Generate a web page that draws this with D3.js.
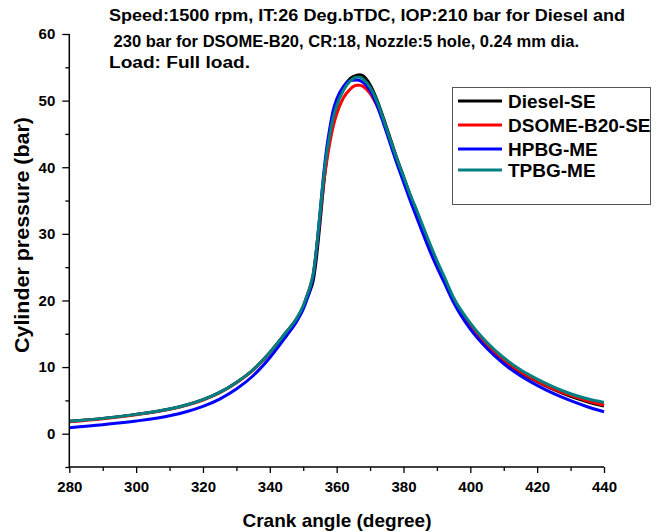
<!DOCTYPE html>
<html>
<head>
<meta charset="utf-8">
<script src="https://cdn.jsdelivr.net/npm/d3@7"></script>
<style>
  html, body { margin: 0; padding: 0; background: #fff; }
  svg { display: block; font-family: "Liberation Sans", Arial, sans-serif; }
</style>
</head>
<body>
<svg id="chart" width="664" height="532"></svg>
<script>
// ---- data ----
const crankAngle = [280, 290, 300, 310, 315, 320, 325, 330, 335, 340, 345, 348, 350, 351, 352, 353, 354, 355, 356, 357, 358, 359, 360, 362, 364, 366, 367, 368, 370, 372, 374, 376, 378, 380, 382, 384, 386, 388, 390, 392, 395, 400, 405, 410, 415, 420, 425, 430, 435, 440];

const dieselSE = [1.85, 2.3, 2.9, 3.7, 4.3, 5.1, 6.2, 7.7, 9.6, 12.2, 15.3, 17.2, 19.0, 20.2, 21.4, 23.0, 26.6, 31.5, 36.8, 41.2, 44.6, 47.3, 49.3, 51.9, 53.3, 53.8, 53.9, 53.7, 52.4, 50.2, 47.4, 44.4, 41.4, 38.6, 35.8, 33.2, 30.6, 28.0, 25.6, 23.4, 20.0, 16.2, 13.3, 11.0, 9.2, 7.8, 6.6, 5.6, 4.8, 4.15];

const dsomeB20SE = [1.8, 2.25, 2.85, 3.65, 4.25, 5.05, 6.15, 7.65, 9.55, 12.1, 15.2, 17.2, 19.1, 20.5, 22.0, 24.0, 27.8, 32.5, 37.2, 40.8, 43.8, 46.2, 48.0, 50.4, 51.7, 52.3, 52.3, 52.1, 51.1, 49.3, 46.9, 44.1, 41.2, 38.4, 35.7, 33.1, 30.5, 28.0, 25.6, 23.4, 20.0, 16.3, 13.4, 11.1, 9.3, 7.9, 6.7, 5.75, 4.95, 4.3];

const hpbgME = [0.9, 1.35, 1.9, 2.7, 3.3, 4.1, 5.2, 6.7, 8.7, 11.4, 14.7, 16.8, 18.7, 20.0, 21.6, 23.6, 27.8, 33.0, 38.4, 42.8, 46.0, 48.6, 50.2, 52.1, 53.0, 53.1, 53.0, 52.7, 51.5, 49.4, 46.6, 43.6, 40.6, 37.8, 35.0, 32.4, 29.8, 27.3, 25.0, 22.9, 19.7, 15.7, 12.8, 10.5, 8.7, 7.25, 6.0, 4.95, 4.05, 3.3];

const tpbgME = [1.85, 2.3, 2.9, 3.7, 4.3, 5.1, 6.2, 7.7, 9.6, 12.2, 15.3, 17.3, 19.2, 20.6, 22.0, 24.0, 28.0, 33.0, 38.0, 42.0, 45.0, 47.5, 49.2, 51.5, 52.9, 53.5, 53.5, 53.2, 52.0, 50.0, 47.2, 44.2, 41.3, 38.6, 35.9, 33.5, 30.9, 28.4, 26.0, 23.8, 20.4, 16.6, 13.7, 11.4, 9.6, 8.2, 7.0, 6.0, 5.25, 4.7];

const seriesNames = ["Diesel-SE", "DSOME-B20-SE", "HPBG-ME", "TPBG-ME"];
const seriesValues = [dieselSE, dsomeB20SE, hpbgME, tpbgME];
const seriesColors = ["#000000", "#ff0000", "#0000ff", "#008080"];

const xTicks = [280, 300, 320, 340, 360, 380, 400, 420, 440];
const xMinorTicks = [290, 310, 330, 350, 370, 390, 410, 430];
const yTicks = [0, 10, 20, 30, 40, 50, 60];
const yMinorTicks = [-5, 5, 15, 25, 35, 45, 55];

const titleLines = [
  "Speed:1500 rpm, IT:26 Deg.bTDC, IOP:210 bar for Diesel and",
  " 230 bar for DSOME-B20, CR:18, Nozzle:5 hole, 0.24 mm dia.",
  "Load: Full load."
];
const xTitle = "Crank angle (degree)";
const yTitle = "Cylinder pressure (bar)";

// ---- layout ----
const svg = d3.select("#chart");
const x = d3.scaleLinear().domain([280, 440]).range([69.3, 604]);
const y = d3.scaleLinear().domain([-5, 60]).range([467, 34]);

const fontBold = "bold";

// curves
const line = d3.line()
  .x((d, i) => x(crankAngle[i]))
  .y(d => y(d))
  .curve(d3.curveMonotoneX);

svg.append("g").selectAll("path")
  .data(seriesValues)
  .join("path")
  .attr("d", d => line(d))
  .attr("fill", "none")
  .attr("stroke", (d, i) => seriesColors[i])
  .attr("stroke-width", 3)
  .attr("stroke-linejoin", "round");

// x axis
const xAxis = svg.append("g").attr("transform", `translate(0,${y(-5)})`);
xAxis.call(d3.axisBottom(x).tickValues(xTicks).tickSize(6).tickPadding(8).tickFormat(d3.format("d")));
xAxis.append("g").call(d3.axisBottom(x).tickValues(xMinorTicks).tickSize(4).tickFormat(""))
  .select(".domain").remove();

// y axis
const yAxis = svg.append("g").attr("transform", `translate(${x(280)},0)`);
yAxis.call(d3.axisLeft(y).tickValues(yTicks).tickSize(7).tickPadding(7).tickFormat(d3.format("d")));
yAxis.append("g").call(d3.axisLeft(y).tickValues(yMinorTicks).tickSize(4).tickFormat(""))
  .select(".domain").remove();

svg.selectAll(".domain").attr("stroke", "#000").attr("stroke-width", 1.5);
xAxis.select(".domain").attr("d", `M${x(280)},0H${x(440)}`);
yAxis.select(".domain").attr("d", `M0,${y(60)}V${y(-5)}`);

svg.selectAll(".tick line").attr("stroke", "#000").attr("stroke-width", 1.3);
svg.selectAll(".tick text")
  .attr("fill", "#000")
  .style("font-size", "15px")
  .style("font-weight", fontBold)
  .style("font-family", "'Liberation Sans', Arial, sans-serif");

// axis titles
svg.append("text")
  .attr("x", 337).attr("y", 527)
  .attr("text-anchor", "middle")
  .style("font-size", "19px").style("font-weight", fontBold)
  .text(xTitle);

svg.append("text")
  .attr("transform", `translate(29,235) rotate(-90)`)
  .attr("text-anchor", "middle")
  .style("font-size", "20px").style("font-weight", fontBold)
  .attr("textLength", 236).attr("lengthAdjust", "spacingAndGlyphs")
  .text(yTitle);

// title block
const titleX = [109, 109, 109];
const titleY = [21, 47, 68];
const titleW = [516, 470, 141];
svg.append("g").selectAll("text")
  .data(titleLines)
  .join("text")
  .attr("x", (d, i) => titleX[i])
  .attr("y", (d, i) => titleY[i])
  .attr("textLength", (d, i) => titleW[i])
  .attr("lengthAdjust", "spacingAndGlyphs")
  .style("font-size", "16px").style("font-weight", fontBold)
  .style("white-space", "pre")
  .attr("xml:space", "preserve")
  .text(d => d);

// legend
const legend = svg.append("g");
legend.append("rect")
  .attr("x", 452.5).attr("y", 87.5).attr("width", 198).attr("height", 117)
  .attr("fill", "#fff").attr("stroke", "#555").attr("stroke-width", 1);
const legRowY = [101, 125, 149, 170];
seriesNames.forEach((name, i) => {
  legend.append("line")
    .attr("x1", 458).attr("x2", 502)
    .attr("y1", legRowY[i]).attr("y2", legRowY[i])
    .attr("stroke", seriesColors[i]).attr("stroke-width", 3);
  legend.append("text")
    .attr("x", 508).attr("y", legRowY[i])
    .attr("dy", "0.35em")
    .style("font-size", "19px").style("font-weight", fontBold)
    .text(name);
});
</script>
</body>
</html>
